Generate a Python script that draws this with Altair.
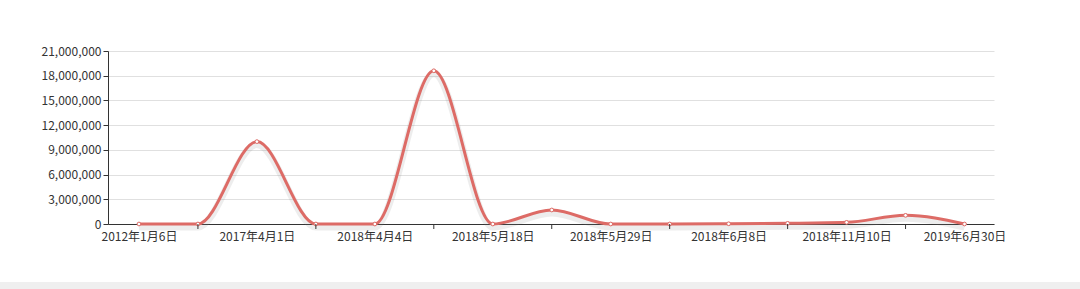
import json
import altair as alt
import pandas as pd

dates = [
    "2012年1月6日", "2015年8月20日", "2017年4月1日", "2017年12月15日",
    "2018年4月4日", "2018年5月3日", "2018年5月18日", "2018年5月25日",
    "2018年5月29日", "2018年6月1日", "2018年6月8日", "2018年8月20日",
    "2018年11月10日", "2019年1月15日", "2019年6月30日",
]
values = [0, 0, 10000000, 0, 0, 18600000, 0, 1700000, 0, 0, 30000, 80000,
          200000, 1050000, 0]
y_ticks = [0, 3000000, 6000000, 9000000, 12000000, 15000000, 18000000, 21000000]

df = pd.DataFrame({"idx": list(range(len(dates))), "date": dates, "value": values})
tick_df = df[df["idx"] % 2 == 1]

FONT = "Noto Sans CJK SC"
RED = "#dd6b66"
label_expr = json.dumps(dates, ensure_ascii=False) + "[datum.value]"

x_scale = alt.Scale(domain=[-0.525, 14.5], nice=False, zero=False)
y_scale = alt.Scale(domain=[0, 21000000], nice=False)

x_enc = alt.X(
    "idx:Q", scale=x_scale,
    axis=alt.Axis(values=list(range(0, 15, 2)), labelExpr=label_expr, ticks=False,
                  grid=False, domainColor="#333", labelColor="#333", labelFontSize=12,
                  labelFont=FONT, labelPadding=7, title=None),
)
y_enc = alt.Y(
    "value:Q", scale=y_scale,
    axis=alt.Axis(values=y_ticks, labelExpr="format(datum.value, ',')", grid=True,
                  gridColor="#e0e0e0", domainColor="#333", tickColor="#333", tickSize=5,
                  labelColor="#333", labelFontSize=12, labelFont=FONT, labelPadding=2,
                  title=None),
)

base = alt.Chart(df)

shadow = base.mark_line(interpolate="monotone", color="#888", strokeWidth=7,
                        opacity=0.15, yOffset=3).encode(x=x_enc, y=y_enc)
line = base.mark_line(interpolate="monotone", color=RED, strokeWidth=3).encode(
    x=x_enc, y=y_enc, tooltip=["date:N", alt.Tooltip("value:Q", format=",")])
pts = base.mark_point(shape="circle", size=14, filled=True, fill="white",
                      stroke=RED, strokeWidth=1, opacity=1).encode(x=x_enc, y=y_enc)

ticks = alt.Chart(tick_df).mark_rule(color="#333", strokeWidth=1).encode(
    x=x_enc, y=alt.value(173), y2=alt.value(178))

band = alt.Chart(df).mark_rect(color="#efefef", clip=False).encode(
    x=alt.value(-108), x2=alt.value(980), y=alt.value(231), y2=alt.value(240))

chart = alt.layer(band, shadow, line, pts, ticks).properties(
    width=886, height=173,
    background="white",
    autosize=alt.AutoSizeParams(type="none"),
    padding={"left": 108, "top": 51, "right": 86, "bottom": 65},
).configure_view(strokeWidth=0, stroke="transparent").configure_axisX(grid=False)

chart.save("out.html", embed_options={"renderer": "svg", "actions": False})
